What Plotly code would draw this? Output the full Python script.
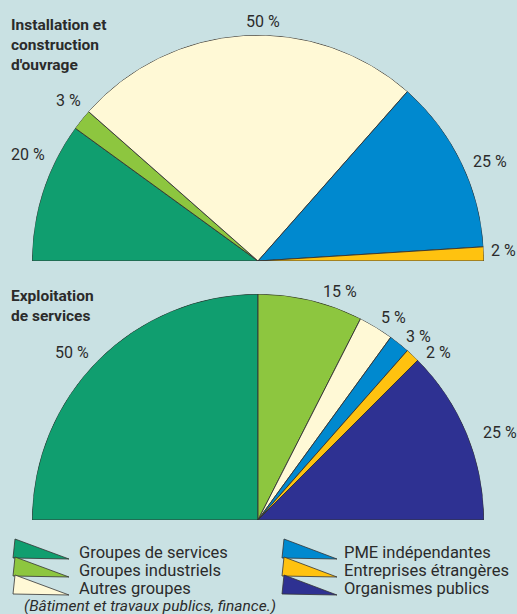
import numpy as np
import plotly.graph_objects as go

W, H = 517, 614

categories = ["Groupes de services", "Groupes industriels", "Autres groupes",
              "PME indépendantes", "Entreprises étrangères", "Organismes publics"]
colors = ["#109e6f", "#8dc63f", "#fff9d6", "#0089cf", "#ffc20f", "#2e3192"]

install_values = [20, 3, 50, 25, 2, 0]
exploit_values = [50, 15, 5, 3, 2, 25]

install_title = ["Installation et", "construction", "d'ouvrage"]
exploit_title = ["Exploitation", "de services"]
note_text = "(Bâtiment et travaux publics, finance.)"

BG = "#c9e1e3"
TXT = "#2b2b2b"
FONT = "Roboto"


def px(x):
    return x / W


def py(y):
    return 1 - y / H


def wedges(values, polar_id):
    v = np.array(values, dtype=float)
    ends = np.cumsum(v)
    starts = ends - v
    mids = (starts + ends) / 2 * 1.8
    widths = v * 1.8
    keep = v > 0
    return go.Barpolar(
        r=[1] * int(keep.sum()),
        theta=mids[keep],
        width=widths[keep],
        marker=dict(color=[c for c, k in zip(colors, keep) if k],
                    line=dict(color="#333333", width=0.9)),
        subplot=polar_id,
        showlegend=False,
        hoverinfo="skip",
    )


fig = go.Figure()
fig.add_trace(wedges(install_values, "polar"))
fig.add_trace(wedges(exploit_values, "polar2"))

polar_common = dict(
    sector=[0, 180],
    bgcolor="rgba(0,0,0,0)",
    bargap=0,
    radialaxis=dict(visible=False, range=[0, 1]),
    angularaxis=dict(visible=False, rotation=180, direction="clockwise"),
)

fig.update_layout(
    width=W, height=H,
    margin=dict(l=0, r=0, t=0, b=0),
    paper_bgcolor=BG, plot_bgcolor=BG,
    font=dict(family=FONT, color=TXT),
    polar=dict(domain=dict(x=[px(32), px(484)], y=[py(261), py(35)]), **polar_common),
    polar2=dict(domain=dict(x=[px(32), px(484)], y=[py(520), py(294)]), **polar_common),
)

annotations = []


def label(text, x, y, size, xanchor="center", **kw):
    annotations.append(dict(x=px(x), y=py(y), xref="paper", yref="paper",
                            text=text, showarrow=False, borderpad=0,
                            xanchor=xanchor, yanchor="middle",
                            font=dict(size=size, color=TXT, family=FONT), **kw))


# slice labels
install_labels = [(28, 154), (68, 101), (263, 21), (490, 161), (503, 251)]
exploit_labels = [(72, 352), (340, 291), (393, 317), (418, 336), (438, 352), (500, 432)]
for vals, pos in ((install_values, install_labels), (exploit_values, exploit_labels)):
    nz = [v for v in vals if v > 0]
    for v, (x, y) in zip(nz, pos):
        label(f"{v} %", x, y, 16)

# titles (one block each, multi-line)
label("<b>" + "<br>".join(install_title) + "</b>", 10, 45, 15.5,
      xanchor="left", align="left")
label("<b>" + "<br>".join(exploit_title) + "</b>", 10, 306, 15.5,
      xanchor="left", align="left")

# legend
shapes = []
rows_y = [539, 557, 575]
text_y = [552, 570.4, 588.8]
cols = [(14, 69, 78), (283, 337, 343)]
for i, (cat, col) in enumerate(zip(categories, colors)):
    c = i // 3
    r = i % 3
    x0, x1, xt = cols[c]
    top = rows_y[r]
    path = (f"M {px(x0 + 1)} {py(top)} L {px(x0 - 1)} {py(top + 19)} "
            f"L {px(x1)} {py(top + 20)} Z")
    shapes.append(dict(type="path", path=path, xref="paper", yref="paper",
                       fillcolor=col, line=dict(color="#333333", width=0.8)))
    label(cat, xt, text_y[r], 16.5, xanchor="left")

label("<i>" + note_text + "</i>", 23, 605.5, 15.5, xanchor="left")

fig.update_layout(annotations=annotations, shapes=shapes)

fig.write_html(
    "out.html",
    config={"displayModeBar": False},
    post_script="document.body.style.margin='0';document.body.style.overflow='hidden';",
)
